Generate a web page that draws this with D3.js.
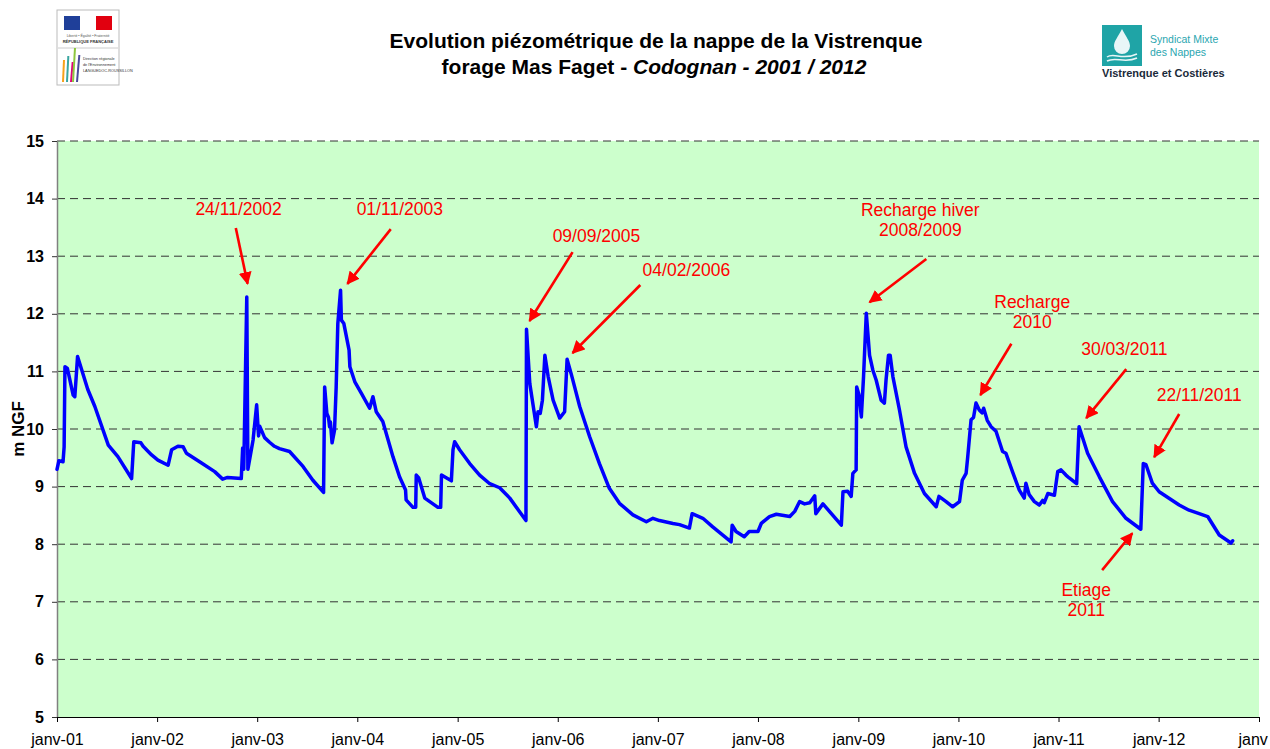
<!DOCTYPE html>
<html>
<head>
<meta charset="utf-8">
<script src="https://cdn.jsdelivr.net/npm/d3@7"></script>
<style>
  body { margin: 0; background: #fff; }
  svg { font-family: "Liberation Sans", Arial, sans-serif; }
  .grid line { stroke: #333; stroke-dasharray: 8,5; }
</style>
</head>
<body>
<svg id="chart" width="1270" height="749"></svg>
<script>
// piezometric level readings (m NGF)
const dates = [
  "2001-01-01","2001-01-08","2001-01-23","2001-01-27","2001-01-30","2001-02-08","2001-03-01","2001-03-07",
  "2001-03-17","2001-04-01","2001-04-23","2001-05-19","2001-07-07","2001-08-11","2001-09-30","2001-10-08",
  "2001-11-03","2001-11-11","2001-12-12","2002-01-04","2002-02-10","2002-02-23","2002-03-18","2002-04-06",
  "2002-04-18","2002-06-12","2002-07-30","2002-08-28","2002-09-15","2002-11-04","2002-11-09","2002-11-13",
  "2002-11-24","2002-11-28","2002-12-17","2002-12-30","2003-01-06","2003-01-10","2003-01-28","2003-02-15",
  "2003-03-05","2003-03-23","2003-04-29","2003-06-17","2003-07-23","2003-08-31","2003-09-04","2003-09-12",
  "2003-09-18","2003-09-22","2003-09-25","2003-10-01","2003-10-10","2003-10-16","2003-10-22","2003-11-01",
  "2003-11-04","2003-11-13","2003-12-02","2003-12-05","2003-12-23","2004-01-16","2004-02-15","2004-02-27",
  "2004-03-10","2004-04-03","2004-05-10","2004-06-03","2004-06-25","2004-06-27","2004-07-22","2004-08-01",
  "2004-08-03","2004-08-12","2004-09-03","2004-10-21","2004-10-31","2004-11-03","2004-12-09","2004-12-15",
  "2004-12-21","2005-01-08","2005-02-14","2005-03-22","2005-04-28","2005-06-03","2005-07-10","2005-09-07",
  "2005-09-09","2005-09-21","2005-10-15","2005-10-21","2005-10-29","2005-11-06","2005-11-15","2005-11-27",
  "2005-12-15","2006-01-08","2006-01-26","2006-02-04","2006-02-20","2006-03-22","2006-04-27","2006-06-02",
  "2006-07-08","2006-08-14","2006-10-02","2006-11-20","2006-12-14","2007-01-07","2007-02-25","2007-03-21",
  "2007-04-26","2007-05-06","2007-06-14","2007-07-20","2007-09-25","2007-09-29","2007-10-13","2007-11-12",
  "2007-11-30","2008-01-01","2008-01-13","2008-02-12","2008-03-08","2008-04-26","2008-05-14","2008-06-01",
  "2008-06-19","2008-07-08","2008-07-26","2008-07-30","2008-08-25","2008-10-31","2008-11-06","2008-11-23",
  "2008-12-06","2008-12-12","2008-12-24","2008-12-26","2009-01-03","2009-01-12","2009-01-20","2009-01-30",
  "2009-02-11","2009-02-23","2009-03-07","2009-03-25","2009-04-06","2009-04-12","2009-04-21","2009-04-27",
  "2009-05-07","2009-05-31","2009-06-24","2009-07-25","2009-08-30","2009-10-12","2009-10-22","2009-11-17",
  "2009-12-11","2010-01-05","2010-01-15","2010-01-29","2010-02-04","2010-02-16","2010-02-25","2010-03-06",
  "2010-03-18","2010-03-28","2010-04-03","2010-04-16","2010-04-30","2010-05-18","2010-06-11","2010-06-23",
  "2010-07-17","2010-08-11","2010-08-29","2010-09-04","2010-09-16","2010-10-05","2010-10-23","2010-11-04",
  "2010-11-10","2010-11-23","2010-12-17","2010-12-29","2011-01-10","2011-01-28","2011-02-09","2011-03-08",
  "2011-03-17","2011-04-17","2011-05-30","2011-07-17","2011-09-04","2011-10-28","2011-11-06","2011-11-16",
  "2011-12-09","2012-01-03","2012-03-16","2012-04-21","2012-05-28","2012-06-28","2012-08-09","2012-09-21",
  "2012-09-27"
];
const levels = [
  9.30, 9.45, 9.43, 9.69, 11.08, 11.05, 10.59, 10.56,
  11.26, 11.03, 10.69, 10.39, 9.72, 9.52, 9.14, 9.78,
  9.76, 9.70, 9.55, 9.46, 9.37, 9.64, 9.70, 9.69,
  9.58, 9.41, 9.26, 9.13, 9.16, 9.14, 9.67, 9.30,
  12.29, 9.30, 9.81, 10.42, 9.88, 10.05, 9.85, 9.77,
  9.70, 9.66, 9.61, 9.35, 9.11, 8.90, 10.73, 10.27,
  10.20, 10.04, 10.12, 9.76, 9.98, 10.73, 11.83, 12.41,
  11.89, 11.83, 11.37, 11.08, 10.82, 10.62, 10.36, 10.56,
  10.30, 10.13, 9.52, 9.17, 8.94, 8.77, 8.64, 8.64,
  9.20, 9.15, 8.80, 8.64, 8.64, 9.20, 9.10, 9.64,
  9.78, 9.64, 9.40, 9.20, 9.05, 8.98, 8.80, 8.41,
  11.73, 10.79, 10.04, 10.30, 10.27, 10.50, 11.28, 10.91,
  10.50, 10.19, 10.30, 11.21, 10.94, 10.39, 9.87, 9.40,
  8.97, 8.71, 8.51, 8.39, 8.45, 8.41, 8.36, 8.34,
  8.28, 8.53, 8.45, 8.30, 8.04, 8.33, 8.22, 8.13,
  8.22, 8.22, 8.36, 8.48, 8.52, 8.48, 8.57, 8.74,
  8.70, 8.72, 8.84, 8.53, 8.70, 8.33, 8.91, 8.92,
  8.83, 9.23, 9.29, 10.73, 10.60, 10.21, 10.91, 12.01,
  11.28, 11.02, 10.85, 10.50, 10.45, 10.85, 11.28, 11.28,
  10.91, 10.33, 9.69, 9.23, 8.88, 8.65, 8.83, 8.74,
  8.65, 8.74, 9.11, 9.23, 9.52, 10.16, 10.20, 10.45,
  10.33, 10.28, 10.36, 10.15, 10.04, 9.96, 9.61, 9.58,
  9.26, 8.94, 8.80, 9.06, 8.86, 8.74, 8.68, 8.76,
  8.72, 8.88, 8.85, 9.26, 9.29, 9.20, 9.15, 9.05,
  10.04, 9.58, 9.17, 8.74, 8.45, 8.26, 9.40, 9.38,
  9.06, 8.91, 8.68, 8.59, 8.53, 8.48, 8.16, 8.02,
  8.06
];

const yTicks = [5, 6, 7, 8, 9, 10, 11, 12, 13, 14, 15];
// the last label is cut by the picture's edge in the original
const xTickLabels = ["janv-01","janv-02","janv-03","janv-04","janv-05","janv-06","janv-07",
                     "janv-08","janv-09","janv-10","janv-11","janv-12","janv"];

// annotations: text lines, text anchor, arrow tail, arrow head (date, level)
const noteLabels = [["24/11/2002"], ["01/11/2003"], ["09/09/2005"], ["04/02/2006"],
                    ["Recharge hiver", "2008/2009"], ["Recharge", "2010"], ["30/03/2011"],
                    ["22/11/2011"], ["Etiage", "2011"]];
const noteTextAt = [["2002-10-25", 13.72], ["2004-06-04", 13.72], ["2006-05-22", 13.25], ["2007-04-15", 12.66],
                    ["2009-08-15", 13.70], ["2010-09-27", 12.10], ["2011-08-29", 11.28],
                    ["2012-05-28", 10.49], ["2011-04-12", 7.10]];
const arrowFrom = [["2002-10-15", 13.49], ["2004-05-02", 13.47], ["2006-02-24", 13.07], ["2006-10-29", 12.50],
                   ["2009-09-06", 12.95], ["2010-07-13", 11.48], ["2011-09-05", 11.04],
                   ["2012-03-16", 10.26], ["2011-06-09", 7.55]];
const arrowTo = [["2002-11-27", 12.52], ["2003-11-26", 12.52], ["2005-09-20", 11.875], ["2006-02-24", 11.32],
                 ["2009-02-11", 12.20], ["2010-03-22", 10.59], ["2011-04-12", 10.19],
                 ["2011-12-16", 9.51], ["2011-09-27", 8.19]];

const parse = d3.timeParse("%Y-%m-%d");
const series = dates.map((d, i) => ({date: parse(d), level: levels[i]}));

const svg = d3.select("#chart");
const plotLeft = 57, plotRight = 1259, plotTop = 141, plotBottom = 717;

const x = d3.scaleTime()
    .domain([new Date(2001, 0, 1), new Date(2013, 0, 1)])
    .range([plotLeft, plotRight]);
const y = d3.scaleLinear().domain([5, 15]).range([plotBottom, plotTop]);

// plot background
svg.append("rect")
    .attr("x", plotLeft).attr("y", plotTop)
    .attr("width", plotRight - plotLeft).attr("height", plotBottom - plotTop)
    .attr("fill", "#ccffcc");

// dashed gridlines
svg.append("g").attr("class", "grid")
  .selectAll("line")
  .data(yTicks.slice(1))
  .join("line")
    .attr("x1", plotLeft).attr("x2", plotRight)
    .attr("y1", d => y(d)).attr("y2", d => y(d));

// y axis
const yAxis = svg.append("g")
    .attr("transform", `translate(${plotLeft},0)`)
    .call(d3.axisLeft(y).tickValues(yTicks).tickFormat(d3.format("d")).tickSize(5).tickSizeOuter(0));
yAxis.select(".domain").attr("stroke", "#808080").attr("stroke-width", 1.5);
yAxis.selectAll(".tick line").attr("stroke", "#333");
yAxis.selectAll("text")
    .attr("x", -13)
    .attr("font-size", 16).attr("font-weight", "bold")
    .attr("font-family", "Liberation Sans, Arial, sans-serif")
    .attr("fill", "#000");

// x axis
const xTicks = xTickLabels.map((_, i) => new Date(2001 + i, 0, 1));
const xAxis = svg.append("g")
    .attr("transform", `translate(0,${plotBottom})`)
    .call(d3.axisBottom(x).tickValues(xTicks)
        .tickFormat((d, i) => xTickLabels[i]).tickSize(5).tickSizeOuter(0));
xAxis.select(".domain").attr("stroke", "#000").attr("stroke-width", 1.2);
xAxis.selectAll(".tick line").attr("stroke", "#000");
xAxis.selectAll("text")
    .attr("y", 17)
    .attr("font-size", 16)
    .attr("font-family", "Liberation Sans, Arial, sans-serif")
    .attr("fill", "#000");
xAxis.selectAll(".tick:last-of-type text").attr("text-anchor", "start").attr("dx", -21);

// y axis title
svg.append("text")
    .attr("transform", `translate(24,${(plotTop + plotBottom) / 2}) rotate(-90)`)
    .attr("text-anchor", "middle")
    .attr("font-size", 17).attr("font-weight", "bold")
    .text("m NGF");

// the level line
const line = d3.line()
    .x(d => x(d.date))
    .y(d => y(d.level));
svg.append("path")
    .datum(series)
    .attr("d", line)
    .attr("fill", "none")
    .attr("stroke", "#0000ff")
    .attr("stroke-width", 3.5)
    .attr("stroke-linejoin", "round")
    .attr("stroke-linecap", "round");

// annotations
svg.append("defs").append("marker")
    .attr("id", "head")
    .attr("viewBox", "0 0 10 10")
    .attr("refX", 9).attr("refY", 5)
    .attr("markerWidth", 5).attr("markerHeight", 5)
    .attr("markerUnits", "strokeWidth")
    .attr("orient", "auto")
  .append("path")
    .attr("d", "M0,0 L10,5 L0,10 z")
    .attr("fill", "#ff0000");

const notes = svg.append("g");
noteLabels.forEach((lines, i) => {
  const [fd, fv] = arrowFrom[i], [td, tv] = arrowTo[i];
  notes.append("line")
    .attr("x1", x(parse(fd))).attr("y1", y(fv))
    .attr("x2", x(parse(td))).attr("y2", y(tv))
    .attr("stroke", "#ff0000").attr("stroke-width", 2.6)
    .attr("marker-end", "url(#head)");
  const [ad, av] = noteTextAt[i];
  const t = notes.append("text")
    .attr("x", x(parse(ad))).attr("y", y(av))
    .attr("text-anchor", "middle")
    .attr("font-size", 17.5)
    .attr("fill", "#ff0000");
  lines.forEach((s, j) => {
    t.append("tspan").attr("x", x(parse(ad))).attr("dy", j ? 20 : 0).text(s);
  });
});

// title
const title = svg.append("text")
    .attr("text-anchor", "middle")
    .attr("font-size", 21).attr("font-weight", "bold")
    .attr("fill", "#000");
title.append("tspan").attr("x", 656).attr("y", 48)
    .text("Evolution piézométrique de la nappe de la Vistrenque");
const t2 = title.append("tspan").attr("x", 654).attr("y", 74);
t2.append("tspan").text("forage Mas Faget - ");
t2.append("tspan").attr("font-style", "italic").text("Codognan - 2001 / 2012");

// left logo (préfecture / DREAL)
const lg = svg.append("g").attr("transform", "translate(57,10)");
lg.append("rect").attr("width", 62).attr("height", 75)
    .attr("fill", "#fff").attr("stroke", "#bbb").attr("stroke-width", 1);
lg.append("rect").attr("x", 7).attr("y", 6).attr("width", 16).attr("height", 14).attr("fill", "#1f3f99");
lg.append("rect").attr("x", 23).attr("y", 6).attr("width", 16).attr("height", 14).attr("fill", "#fff");
lg.append("rect").attr("x", 39).attr("y", 6).attr("width", 16).attr("height", 14).attr("fill", "#e1000f");
lg.append("text").attr("x", 31).attr("y", 27).attr("text-anchor", "middle")
    .attr("font-size", 3.5).attr("fill", "#555").text("Liberté • Égalité • Fraternité");
lg.append("text").attr("x", 31).attr("y", 33).attr("text-anchor", "middle")
    .attr("font-size", 4).attr("font-weight", "bold").attr("fill", "#333").text("RÉPUBLIQUE FRANÇAISE");
lg.append("line").attr("x1", 1).attr("x2", 61).attr("y1", 38).attr("y2", 38).attr("stroke", "#ccc");
[["#f7a11a", 6, 60, 3], ["#3aa6a0", 10, 56, 4], ["#e2007a", 14, 62, 5], ["#8dc63f", 16, 48, 6],
 ["#4a4a9a", 20, 55, 7]].forEach(([c, x0, y1, k]) => {
  lg.append("line").attr("x1", x0).attr("x2", x0 + k / 3).attr("y1", 72).attr("y2", y1 - 10)
    .attr("stroke", c).attr("stroke-width", 2);
});
["Direction régionale", "de l'Environnement", "LANGUEDOC-ROUSSILLON"].forEach((s, i) => {
  lg.append("text").attr("x", 26).attr("y", 50 + i * 6).attr("font-size", 3.8)
    .attr("fill", "#333").text(s);
});

// right logo (syndicat)
const rg = svg.append("g").attr("transform", "translate(1102,25)");
rg.append("rect").attr("width", 40).attr("height", 41).attr("fill", "#1fa4a6");
rg.append("path").attr("d", "M20,4 C16,12 12,16 12,21 A8,8 0 0 0 28,21 C28,16 24,12 20,4 Z")
    .attr("fill", "#e8f6f7");
rg.append("path").attr("d", "M5,32 C12,27 20,36 35,29 M5,36 C14,31 22,39 35,33")
    .attr("fill", "none").attr("stroke", "#e8f6f7").attr("stroke-width", 1.5);
rg.append("text").attr("x", 48).attr("y", 18).attr("font-size", 10.5).attr("fill", "#2aa6b0").text("Syndicat Mixte");
rg.append("text").attr("x", 48).attr("y", 31).attr("font-size", 10.5).attr("fill", "#2aa6b0").text("des Nappes");
rg.append("text").attr("x", 0).attr("y", 52).attr("font-size", 11).attr("font-weight", "bold")
    .attr("fill", "#1a2a3a").text("Vistrenque et Costières");
</script>
</body>
</html>
